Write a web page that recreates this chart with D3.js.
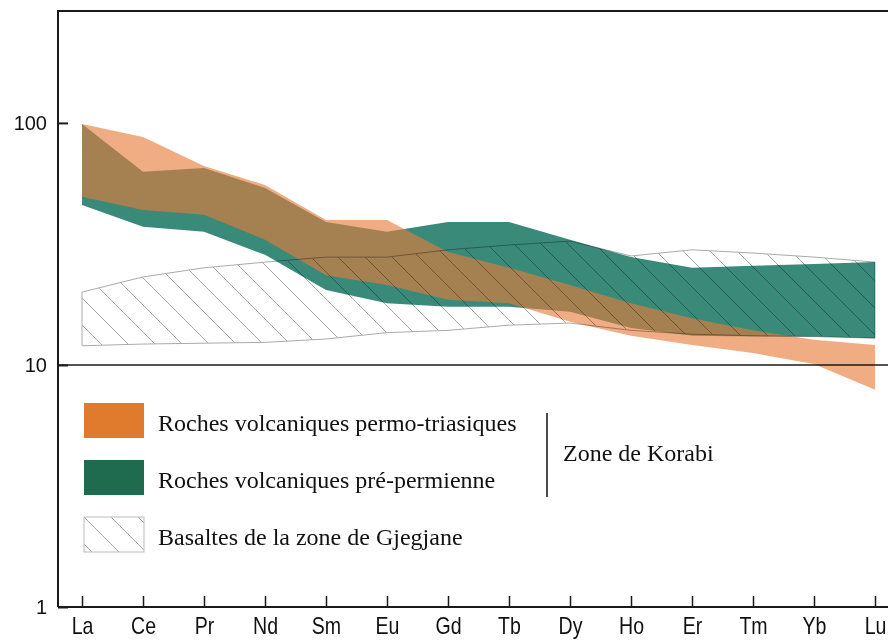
<!DOCTYPE html>
<html>
<head>
<meta charset="utf-8">
<script src="https://cdn.jsdelivr.net/npm/d3@7"></script>
<style>
  body { margin: 0; background: #fff; }
  svg { display: block; }
</style>
</head>
<body>
<div id="chart"></div>
<script>
// REE spectra (chondrite normalised) - envelopes
const elements = ["La", "Ce", "Pr", "Nd", "Sm", "Eu", "Gd", "Tb", "Dy", "Ho", "Er", "Tm", "Yb", "Lu"];

// Roches volcaniques permo-triasiques
const permoHigh = [99, 87.5, 66.4, 55.4, 39.7, 39.7, 29.3, 25.2, 21.4, 18.0, 15.6, 13.9, 12.7, 12.1];
const permoLow = [49.5, 43.7, 41.7, 32.9, 23.5, 21.4, 18.6, 18.0, 15.1, 13.2, 12.1, 11.2, 10.1, 7.9];

// Roches volcaniques pre-permienne
const prePermHigh = [99, 62.8, 65.2, 53.9, 39.0, 35.5, 39.0, 39.0, 32.9, 27.9, 25.2, 25.7, 26.1, 26.6];
const prePermLow = [45.8, 37.2, 35.5, 28.5, 20.4, 18.0, 17.4, 17.4, 16.6, 14.2, 13.2, 13.1, 13.1, 12.9];

// Basaltes de la zone de Gjegjane
const gjegHigh = [20.0, 23.1, 25.2, 26.6, 27.9, 27.9, 29.9, 31.3, 32.5, 28.2, 29.9, 29.0, 27.9, 26.6];
const gjegLow = [12.0, 12.2, 12.3, 12.4, 12.8, 13.6, 13.9, 14.6, 14.9, 13.9, 13.4, 13.2, 13.1, 12.9];

const yTicks = [1, 10, 100];
const yMax = 290;

const legendItems = [
    "Roches volcaniques permo-triasiques",
    "Roches volcaniques pré-permienne",
    "Basaltes de la zone de Gjegjane"
];
const zoneLabel = "Zone de Korabi";

const W = 888, H = 640;
const mLeft = 58, mTop = 11, mBottom = 607, mRight = 888;

const svg = d3.select("#chart").append("svg")
    .attr("width", W).attr("height", H);

const x = d3.scalePoint().domain(elements).range([82, 875]);
const y = d3.scaleLog().domain([1, yMax]).range([mBottom, mTop]);

// hatch pattern
const hs = 27;
const defs = svg.append("defs");
function hatch(id, col, sw) {
    defs.append("pattern")
        .attr("id", id)
        .attr("patternUnits", "userSpaceOnUse")
        .attr("width", hs).attr("height", hs)
        .append("path")
        .attr("d", `M-2,-2 L${hs + 2},${hs + 2} M${hs - 2},-2 L${hs + 2},2 M-2,${hs - 2} L2,${hs + 2}`)
        .attr("stroke", col)
        .attr("stroke-width", sw)
        .attr("fill", "none");
}
hatch("hatch", "#a8a8a8", 1);

const area = (lo, hi) => d3.area()
    .x((d, i) => x(elements[i]))
    .y0((d, i) => y(lo[i]))
    .y1((d, i) => y(hi[i]))(elements);

// bands
svg.append("path")
    .attr("d", area(prePermLow, prePermHigh))
    .attr("fill", "#3a8a7a");

svg.append("path")
    .attr("d", area(permoLow, permoHigh))
    .attr("fill", "#e67a38")
    .attr("opacity", 0.62);

svg.append("path")
    .attr("d", area(gjegLow, gjegHigh))
    .attr("fill", "url(#hatch)")
    .attr("stroke", "#aaa")
    .attr("stroke-width", 1)
    .style("mix-blend-mode", "multiply");

// frame
const frame = svg.append("g").attr("stroke", "#1a1a1a").attr("stroke-width", 2).attr("fill", "none");
frame.append("path").attr("d", `M${mLeft},${mBottom} V${mTop} H${mRight}`);
frame.append("path").attr("d", `M${mLeft},${y(10)} H${mRight}`).attr("stroke-width", 1.6);

// x axis
const xAxis = svg.append("g")
    .attr("transform", `translate(0,${mBottom})`)
    .call(d3.axisBottom(x).tickSizeInner(-11).tickSizeOuter(0).tickPadding(0));
xAxis.select(".domain").attr("d", `M${mLeft},0 H${mRight}`).attr("stroke", "#1a1a1a").attr("stroke-width", 2);
xAxis.selectAll(".tick line").attr("stroke", "#1a1a1a").attr("stroke-width", 1.5);
xAxis.selectAll(".tick text")
    .attr("y", 27)
    .attr("dy", null)
    .attr("transform", "scale(0.85,1)")
    .attr("fill", "#111")
    .style("font-family", "'Liberation Sans', Arial, sans-serif")
    .style("font-size", "23px");

// y axis
const yAxis = svg.append("g")
    .attr("transform", `translate(${mLeft},0)`)
    .call(d3.axisLeft(y).tickValues(yTicks).tickFormat(d3.format("d"))
        .tickSizeInner(-10).tickSizeOuter(0).tickPadding(11));
yAxis.select(".domain").remove();
yAxis.selectAll(".tick line").attr("stroke", "#1a1a1a").attr("stroke-width", 2);
yAxis.selectAll(".tick text")
    .attr("fill", "#111")
    .style("font-family", "'Liberation Sans', Arial, sans-serif")
    .style("font-size", "20px");

// legend
const legend = svg.append("g").attr("transform", "translate(84,403)");
const rowH = 57;
const fills = ["#e07a2c", "#1f6b50", "url(#hatch)"];
legendItems.forEach((t, i) => {
    const g = legend.append("g").attr("transform", `translate(0,${i * rowH})`);
    g.append("rect")
        .attr("width", 60).attr("height", 35)
        .attr("fill", i === 2 ? "#fff" : fills[i]);
    if (i === 2) {
        g.append("rect")
            .attr("width", 60).attr("height", 35)
            .attr("fill", fills[i])
            .attr("stroke", "#bbb").attr("stroke-width", 1);
    }
    g.append("text")
        .attr("x", 74).attr("y", 28)
        .attr("fill", "#111")
        .style("font-family", "'Liberation Serif', 'Times New Roman', serif")
        .style("font-size", "24px")
        .text(t);
});
legend.append("line")
    .attr("x1", 463).attr("x2", 463)
    .attr("y1", 10).attr("y2", 94)
    .attr("stroke", "#111").attr("stroke-width", 1.5);
legend.append("text")
    .attr("x", 479).attr("y", 58)
    .attr("fill", "#111")
    .style("font-family", "'Liberation Serif', 'Times New Roman', serif")
    .style("font-size", "24px")
    .text(zoneLabel);
</script>
</body>
</html>
